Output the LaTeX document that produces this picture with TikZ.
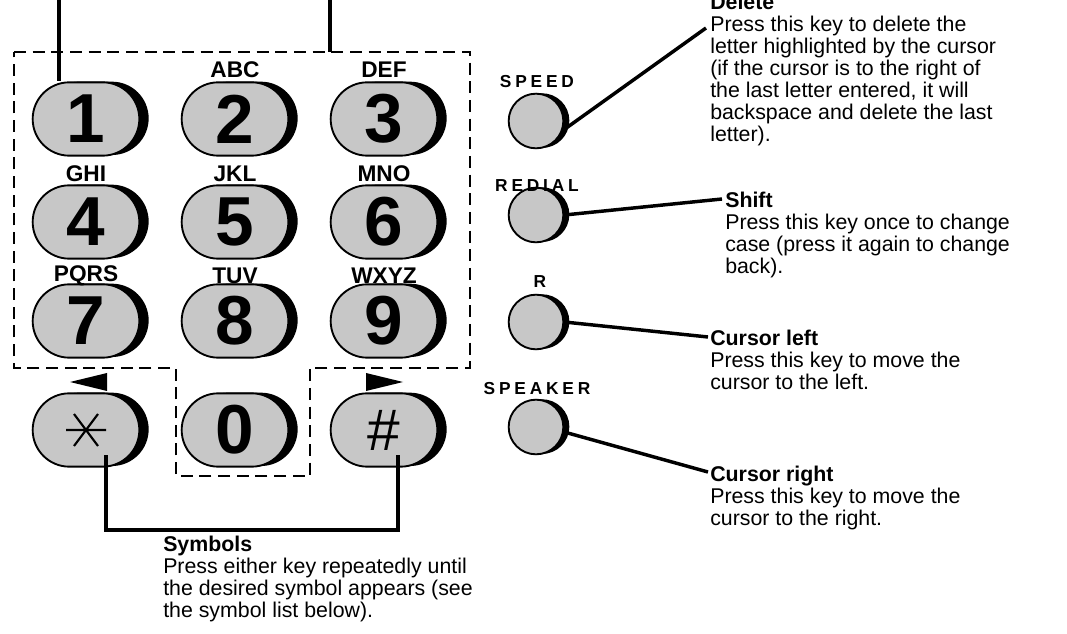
\documentclass[tikz,border=0pt]{standalone}
\usepackage{fontspec}
\setmainfont{Liberation Sans}
\usetikzlibrary{shapes.misc,shadows}
\tikzset{
 key/.style={rounded rectangle,minimum width=80pt,minimum height=55pt,inner sep=0pt,fill=black!22,draw,line width=1.4pt,
   general shadow={fill=black,shadow xshift=7pt,shadow yshift=0.5pt},font=\fontsize{52}{52}\bfseries\selectfont},
 btn/.style={circle,minimum size=41pt,inner sep=0pt,fill=black!22,draw,line width=1.4pt,
   general shadow={fill=black,shadow xshift=4.5pt,shadow yshift=0.3pt}},
 let/.style={font=\fontsize{17}{17}\bfseries\selectfont},
 blab/.style={font=\fontsize{13}{13}\bfseries\addfontfeature{LetterSpace=22}\selectfont},
 desc/.style={align=left,anchor=north west,inner sep=0pt,font=\fontsize{16}{16.5}\selectfont},
 ln/.style={line width=2.6pt}
}
\begin{document}
\begin{tikzpicture}[x=0.75pt,y=-0.75pt]
\useasboundingbox (0,0) rectangle (1067,634);
\draw[line width=2pt,dash pattern=on 9pt off 5pt] (14,52)--(470,52)--(470,368)--(310,368)--(310,476)--(176,476)--(176,368)--(14,368)--cycle;
\foreach \n/\t/\x/\y in {k1/1/86/119,k2/2/235/119,k3/3/384/119,k4/4/86/222,k5/5/235/222,k6/6/384/222,k7/7/86/321,k8/8/235/321,k9/9/384/321,k0/0/235/430}
  \node[key] (\n) at (\x,\y) {\t};
\node[key] (ks) at (86,430) {};
\node[key,font=\fontsize{44}{44}\selectfont] (kh) at (384,430) {\#};
\draw[line width=1.6pt] (66,430)--(106,430) (74,414)--(98,446) (74,446)--(98,414);
\foreach \n/\t/\x/\y in {a/ABC/235/70,b/DEF/384/70,c/GHI/86/174,d/JKL/235/174,e/MNO/384/174,f/PQRS/86/276,g/TUV/235/276,h/WXYZ/384/276}
  \node[let] (\n) at (\x,\y) {\t};
\fill (70,382)--(107,373)--(107,391)--cycle;
\fill (403,382)--(366,373)--(366,391)--cycle;
\coordinate (t1) at (59,0); \coordinate (t2) at (330,0); \coordinate (bt) at (330,52);
\draw[ln] (t1)--(t1|-k1.north);
\draw[ln] (t2)--(bt);
\draw[ln] (106,455)--(106,530)--(398,530)--(398,455);
\node[desc] (sym) at (163,536) {\textbf{Symbols}\\Press either key repeatedly until\\the desired symbol appears (see\\the symbol list below).};
\foreach \n/\y in {b1/121,b2/215,b3/322,b4/427} \node[btn] (\n) at (536,\y) {};
\node[blab] at (537,82) {SPEED};
\node[blab] at (537,186) {REDIAL};
\node[blab] at (540,282) {R};
\node[blab] at (537,389) {SPEAKER};
\node[desc] (d1) at (710,-6) {\textbf{Delete}\\Press this key to delete the\\letter highlighted by the cursor\\(if the cursor is to the right of\\the last letter entered, it will\\backspace and delete the last\\letter).};
\node[desc] (d2) at (725,192) {\textbf{Shift}\\Press this key once to change\\case (press it again to change\\back).};
\node[desc] (d3) at (710,330) {\textbf{Cursor left}\\Press this key to move the\\cursor to the left.};
\node[desc] (d4) at (710,466) {\textbf{Cursor right}\\Press this key to move the\\cursor to the right.};
\draw[ln] (b1.-20)--(706,28);
\draw[ln] (b2.east)--(722,199);
\draw[ln] (b3.east)--(708,337);
\draw[ln] (b4.-10)--(708,472);
\end{tikzpicture}
\end{document}
